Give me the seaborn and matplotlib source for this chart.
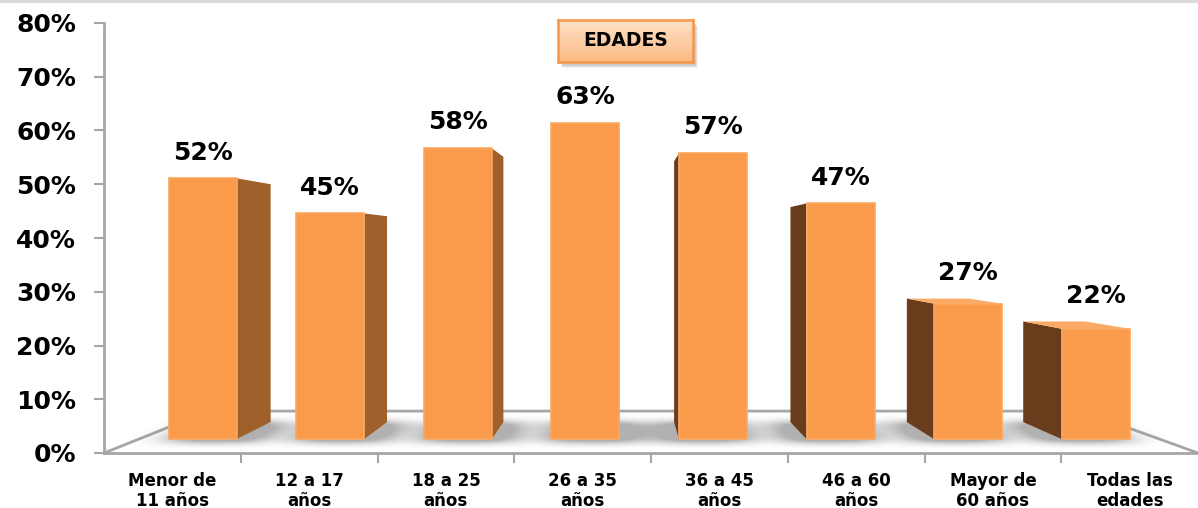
import numpy as np
import pandas as pd
import matplotlib
matplotlib.use("Agg")
import matplotlib.pyplot as plt
import seaborn as sns
from matplotlib.patches import Polygon, Rectangle
from matplotlib.path import Path

# Datos
categorias = ["Menor de\n11 años", "12 a 17\naños", "18 a 25\naños", "26 a 35\naños",
              "36 a 45\naños", "46 a 60\naños", "Mayor de\n60 años", "Todas las\nedades"]
porcentajes = [52, 45, 58, 63, 57, 47, 27, 22]
marcas_y = [0, 10, 20, 30, 40, 50, 60, 70, 80]
titulo = "EDADES"

# Colores
FRENTE = "#F99B4B"
LADO_DER = "#A0602C"
LADO_IZQ = "#693D1C"
TAPA = "#FBAA66"
GRIS = "#A6A6A6"

# Perspectiva simple: punto de fuga horizontal y altura del horizonte (en datos)
VX, HY = 3.30, 38.6
S_FRENTE, S_FONDO, S_PARED = 0.933, 0.851, 0.798


def proyectar(x, v, s):
    return VX + s * (x - VX), HY + s * (v - HY)


def desenfocar(img, sx, sy):
    """Desenfoque gaussiano separable."""
    def nucleo(s):
        r = int(3 * s)
        t = np.arange(-r, r + 1)
        k = np.exp(-0.5 * (t / s) ** 2)
        return k / k.sum()
    kx, ky = nucleo(sx), nucleo(sy)
    img = np.apply_along_axis(lambda f: np.convolve(f, kx, mode="same"), 1, img)
    img = np.apply_along_axis(lambda f: np.convolve(f, ky, mode="same"), 0, img)
    return img


sns.set_theme(style="white")
plt.rcParams["font.family"] = ["DejaVu Sans"]
plt.rcParams["text.color"] = "black"
plt.rcParams["xtick.labelcolor"] = "black"
plt.rcParams["ytick.labelcolor"] = "black"

fig = plt.figure(figsize=(11.98, 5.08), dpi=100)
fig.patch.set_facecolor("white")
ax = fig.add_axes([104 / 1198, 55 / 508, 1094 / 1198, 430 / 508])

df = pd.DataFrame({"edad": categorias, "valor": porcentajes})
sns.barplot(data=df, x="edad", y="valor", color=FRENTE, width=0.533,
            saturation=1, ax=ax, zorder=6, edgecolor="#FBA862", linewidth=1.2)
barras = list(ax.containers[0])
ax.set_xlim(-0.5, 7.5)
ax.set_ylim(0, 80)

# Suelo en perspectiva
suelo = [(-0.5, 0), (7.5, 0), proyectar(7.5, 0, S_PARED), proyectar(-0.5, 0, S_PARED)]
ax.add_patch(Polygon(suelo, closed=True, facecolor="white", edgecolor="none", zorder=1))
xs, ys = zip(*[suelo[0], suelo[3], suelo[2], suelo[1]])
ax.plot(xs, ys, color=GRIS, lw=2, zorder=2, solid_capstyle="butt", clip_on=False)

# Rejilla para las sombras sobre el suelo
gx = np.linspace(-0.5, 7.5, 1094)
gy = np.linspace(0, 10, 54)
GX, GY = np.meshgrid(gx, gy)
puntos = np.column_stack([GX.ravel(), GY.ravel()])
mascara = np.zeros(GX.shape)

for barra, valor in zip(barras, porcentajes):
    x0, w, h = barra.get_x(), barra.get_width(), barra.get_height()
    fx0, fy0 = proyectar(x0, 0, S_FRENTE)
    fx1, fy1 = proyectar(x0 + w, h, S_FRENTE)

    # huella de la sombra, algo desplazada hacia el centro
    centro = x0 + w / 2
    extra_izq = 0.04 + (0.12 if centro > VX else 0.0)
    extra_der = 0.04 + (0.12 if centro < VX else 0.0)
    huella = [proyectar(x0 - extra_izq, -0.6, S_FRENTE),
              proyectar(x0 + w + extra_der, -0.6, S_FRENTE),
              proyectar(x0 + w + extra_der, 0, S_FONDO),
              proyectar(x0 - extra_izq, 0, S_FONDO)]
    dentro = Path(huella).contains_points(puntos).reshape(GX.shape)
    mascara = np.maximum(mascara, dentro.astype(float))

    # cara frontal
    barra.set_x(fx0)
    barra.set_width(fx1 - fx0)
    barra.set_y(fy0)
    barra.set_height(fy1 - fy0)

    # cara lateral visible
    if x0 + w < VX:
        borde, color = x0 + w, LADO_DER
    else:
        borde, color = x0, LADO_IZQ
    lado = [proyectar(borde, 0, S_FRENTE), proyectar(borde, 0, S_FONDO),
            proyectar(borde, h, S_FONDO), proyectar(borde, h, S_FRENTE)]
    ax.add_patch(Polygon(lado, closed=True, facecolor=color, edgecolor="none", zorder=5))

    # tapa superior si queda por debajo del horizonte
    tope = fy1
    if h < HY:
        tapa = [proyectar(x0, h, S_FRENTE), proyectar(x0 + w, h, S_FRENTE),
                proyectar(x0 + w, h, S_FONDO), proyectar(x0, h, S_FONDO)]
        ax.add_patch(Polygon(tapa, closed=True, facecolor=TAPA, edgecolor="none", zorder=5))
        tope = proyectar(x0, h, S_FONDO)[1]

    ax.text((fx0 + fx1) / 2, tope + 4.8, f"{valor}%", ha="center", va="center",
            fontsize=18, fontweight="bold", color="black", zorder=8)

# Sombra difusa
sombra = desenfocar(mascara, 18, 3.5)
rgba = np.zeros(GX.shape + (4,))
rgba[..., :3] = 0.45
rgba[..., 3] = np.clip(sombra * 0.9, 0, 0.55)
ax.imshow(rgba, extent=[-0.5, 7.5, 0, 10], origin="lower", aspect="auto",
          interpolation="bilinear", zorder=3)
ax.set_xlim(-0.5, 7.5)
ax.set_ylim(0, 80)

# Ejes
for lado in ["top", "right"]:
    ax.spines[lado].set_visible(False)
for lado in ["left", "bottom"]:
    ax.spines[lado].set_color(GRIS)
    ax.spines[lado].set_linewidth(2)
    ax.spines[lado].set_zorder(2)

ax.set_yticks(marcas_y)
ax.set_yticklabels([f"{m}%" for m in marcas_y], fontsize=18, fontweight="bold",
                   color="black")
ax.tick_params(axis="y", which="major", left=True, length=7, width=1.5,
               color=GRIS, pad=13, direction="out")

ax.set_xticks(range(len(categorias)))
ax.set_xticklabels(categorias, fontsize=12, fontweight="bold", linespacing=1.1,
                   color="black")
ax.set_xticks(np.arange(0.5, len(categorias) - 0.5, 1), minor=True)
ax.tick_params(axis="x", which="major", bottom=False, pad=8)
ax.tick_params(axis="x", which="minor", bottom=True, length=7, width=1.5,
               color=GRIS, direction="out")
ax.set_xlabel("")
ax.set_ylabel("")

# Recuadro del título con degradado
caja = [558 / 1198, 1 - 62 / 508, 135 / 1198, 42 / 508]
for d, a in [(5, 0.10), (4, 0.15), (3, 0.2)]:
    ax_s = fig.add_axes([caja[0] + d / 1198, caja[1] - (d + 1) / 508, caja[2], caja[3]])
    ax_s.set_facecolor((0.5, 0.5, 0.5, a))
    ax_s.patch.set_alpha(a)
    ax_s.set_xticks([]); ax_s.set_yticks([])
    for s in ax_s.spines.values():
        s.set_visible(False)
ax_t = fig.add_axes(caja)
grad = np.linspace(0, 1, 64)[:, None]
cmap = matplotlib.colors.LinearSegmentedColormap.from_list("caja", ["#FEE2C8", "#FBB982"])
ax_t.imshow(grad, aspect="auto", cmap=cmap, extent=[0, 1, 0, 1], origin="upper")
ax_t.set_xticks([]); ax_t.set_yticks([])
for s in ax_t.spines.values():
    s.set_color("#F79646")
    s.set_linewidth(1.8)
ax_t.text(0.5, 0.5, titulo, ha="center", va="center", fontsize=13.5,
          fontweight="bold", color="black", transform=ax_t.transAxes)

# Línea gris superior
fig.patches.append(Rectangle((0, 1 - 3 / 508), 1, 3 / 508, transform=fig.transFigure,
                             facecolor="#DADADA", edgecolor="none"))

fig.savefig("out.png", dpi=100)
